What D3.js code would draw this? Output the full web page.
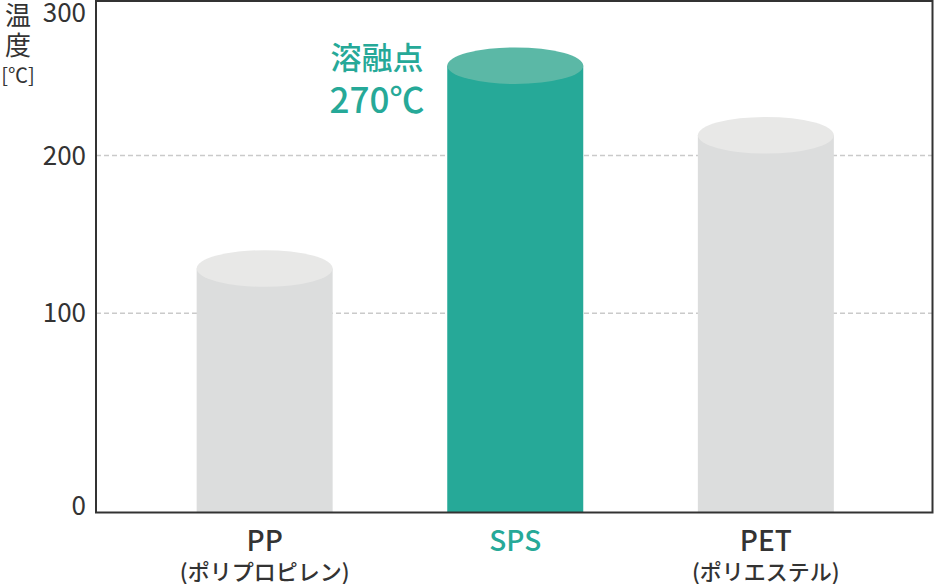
<!DOCTYPE html>
<html>
<head>
<meta charset="utf-8">
<script src="https://cdn.jsdelivr.net/npm/d3@7"></script>
<style>
  body { margin: 0; background: #fff; }
  svg { display: block; font-family: "Noto Sans CJK JP", "Noto Sans", sans-serif; }
</style>
</head>
<body>
<svg id="viz" width="934" height="584"></svg>
<script>
// chart data
var categories = ["PP", "SPS", "PET"];
var subLabels = ["(ポリプロピレン)", "", "(ポリエステル)"];
var meltTemps = [140, 270, 225];
var highlight = "SPS";
var yTicks = [0, 100, 200, 300];
var gridTicks = [100, 200];

var svg = d3.select("#viz");

// the 0-100 band is drawn taller than the rest in the original
var yScale = d3.scaleLinear()
            .domain([0, 100, 200, 300])
            .range([512.5, 313.3, 155.6, 1]);

var xPoint = d3.scalePoint()
            .domain(categories)
            .range([97.5, 933])
            .padding(0.667);

var barW = 136, ry = 18.3;

// gridlines
svg.append("g").selectAll("line")
    .data(gridTicks)
    .enter()
    .append("line")
    .attr("x1", 96).attr("x2", 932)
    .attr("y1", d => yScale(d)).attr("y2", d => yScale(d))
    .attr("stroke", "#cacaca")
    .attr("stroke-width", 1.5)
    .attr("stroke-dasharray", "5,3");

var tuples = categories.map((c, i) => ({cat: c, sub: subLabels[i], v: meltTemps[i]}));

function bodyColor(d) { return d.cat == highlight ? "#26a998" : "#dcdddd"; }
function topColor(d) { return d.cat == highlight ? "#5bb8a6" : "#e8e8e7"; }

var bars = svg.append("g").selectAll("g")
    .data(tuples)
    .enter()
    .append("g");

bars.append("rect")
    .attr("x", d => xPoint(d.cat) - barW / 2)
    .attr("y", d => yScale(d.v) + ry)
    .attr("width", barW)
    .attr("height", d => yScale(0) - yScale(d.v) - ry)
    .attr("fill", bodyColor);

bars.append("ellipse")
    .attr("cx", d => xPoint(d.cat))
    .attr("cy", d => yScale(d.v) + ry)
    .attr("rx", barW / 2)
    .attr("ry", ry)
    .attr("fill", topColor);

// frame around the plot
svg.append("rect")
    .attr("x", 96).attr("y", 1)
    .attr("width", 836.5).attr("height", 511.5)
    .attr("fill", "none")
    .attr("stroke", "#333")
    .attr("stroke-width", 2);

// y tick labels (first and last nudged inside)
svg.append("g").selectAll("text")
    .data(yTicks)
    .enter()
    .append("text")
    .attr("x", 86)
    .attr("y", d => Math.min(Math.max(yScale(d), 13), 506))
    .attr("dy", "0.35em")
    .attr("text-anchor", "end")
    .attr("font-size", 26)
    .attr("fill", "#333")
    .text(d => d);

// y axis title, stacked
var yTitle = svg.append("g").attr("fill", "#333").attr("text-anchor", "middle");
yTitle.append("text").attr("x", 18).attr("y", 25).attr("font-size", 26).text("温");
yTitle.append("text").attr("x", 18).attr("y", 55).attr("font-size", 26).text("度");
yTitle.append("text").attr("x", 18).attr("y", 83).attr("font-size", 20).text("[℃]");

// x labels
var xl = svg.append("g").attr("text-anchor", "middle");
xl.selectAll(".main")
    .data(tuples)
    .enter()
    .append("text")
    .attr("class", "main")
    .attr("x", d => xPoint(d.cat))
    .attr("y", 551)
    .attr("font-size", 28)
    .attr("font-weight", 500)
    .attr("fill", d => d.cat == highlight ? "#26a998" : "#333")
    .text(d => d.cat);

xl.selectAll(".sub")
    .data(tuples)
    .enter()
    .append("text")
    .attr("class", "sub")
    .attr("x", d => xPoint(d.cat))
    .attr("y", 580)
    .attr("font-size", 22)
    .attr("font-weight", 500)
    .attr("fill", "#333")
    .text(d => d.sub);

// annotation
var ann = svg.append("g")
    .attr("text-anchor", "middle")
    .attr("fill", "#26a998")
    .attr("font-weight", 500);
ann.append("text").attr("x", 377).attr("y", 69).attr("font-size", 31).text("溶融点");
ann.append("text").attr("x", 377).attr("y", 113).attr("font-size", 35).text(meltTemps[1] + "℃");
</script>
</body>
</html>
